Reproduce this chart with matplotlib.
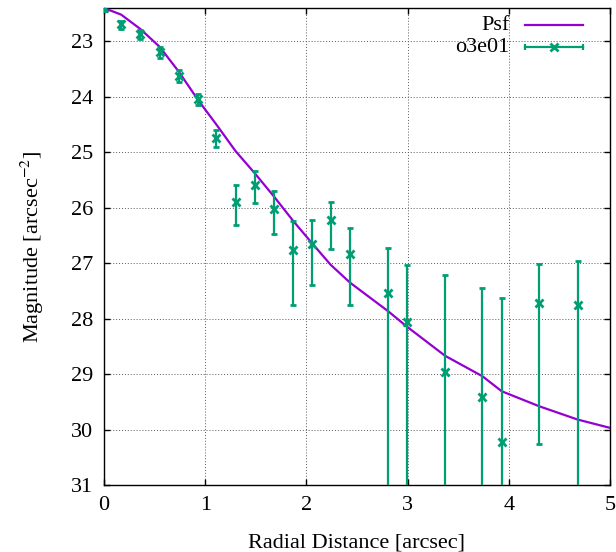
"""Radial surface-brightness profile of o3e01 against the PSF (gnuplot-style look)."""
import matplotlib
matplotlib.use("Agg")
import matplotlib.pyplot as plt
import numpy as np
from matplotlib import rcParams

rcParams.update({
    "font.family": "Liberation Serif",
    "mathtext.fontset": "stix",
    "font.size": 16,
    "axes.linewidth": 1.0,
})

PURPLE = "#9400d3"
GREEN = "#009e73"

# PSF profile
psf_r = [0.0, 0.17, 0.36, 0.55, 0.74, 0.93, 1.11, 1.30, 1.49, 1.68, 1.87, 2.06,
         2.24, 2.43, 2.81, 2.99, 3.37, 3.74, 3.93, 4.30, 4.68, 5.0]
psf_mag = [22.4, 22.52, 22.78, 23.10, 23.55, 24.06, 24.50, 24.98, 25.38, 25.80, 26.24, 26.65,
           27.03, 27.35, 27.87, 28.14, 28.67, 29.04, 29.31, 29.58, 29.82, 29.97]

# o3e01 measurements with asymmetric error bounds (bright / faint side)
obs_r = [0.0, 0.17, 0.36, 0.55, 0.74, 0.93, 1.11, 1.30, 1.49, 1.68, 1.87, 2.06,
         2.24, 2.43, 2.81, 2.99, 3.37, 3.74, 3.93, 4.30, 4.68]
obs_mag = [22.40, 22.69, 22.86, 23.20, 23.63, 24.04, 24.75, 25.90, 25.60, 26.03, 26.76, 26.65,
           26.23, 26.84, 27.54, 28.06, 28.96, 29.41, 30.23, 27.71, 27.75]
obs_bright = [22.35, 22.63, 22.80, 23.11, 23.52, 23.95, 24.60, 25.60, 25.34, 25.70, 26.24, 26.22,
              25.89, 26.36, 26.72, 27.03, 27.21, 27.44, 27.62, 27.01, 26.96]
obs_faint = [22.45, 22.78, 22.95, 23.30, 23.73, 24.15, 24.90, 26.31, 25.92, 26.48, 27.75, 27.39,
             26.75, 27.75, 32.0, 32.0, 32.0, 32.0, 32.0, 30.26, 32.0]

fig = plt.figure(figsize=(6.16, 5.52), dpi=100)
ax = fig.add_axes([104 / 616, 67 / 552, 506 / 616, 477 / 552])

ax.plot(psf_r, psf_mag, color=PURPLE, lw=1.6, zorder=3)

mag = np.array(obs_mag)
yerr = [mag - np.array(obs_bright), np.array(obs_faint) - mag]
ax.errorbar(obs_r, mag, yerr=yerr, fmt="x", color=GREEN, ecolor=GREEN,
            elinewidth=1.6, capsize=2.2, capthick=1.6, ms=6, mew=2, zorder=4)

ax.set_xlim(0, 5)
ax.set_ylim(31, 22.4)
ax.set_xticks(range(0, 6))
ax.set_yticks(range(23, 32))
ax.grid(True, ls=(0, (1, 2)), color="0.35", lw=0.7)
ax.tick_params(direction="in", length=4, width=1, top=True, right=True, pad=8)
ax.set_xlabel("Radial Distance [arcsec]", labelpad=13)
ax.set_ylabel("Magnitude [arcsec$^{-2}$]", labelpad=18)

# gnuplot-style key: right-aligned labels, sample to the right
tr = ax.transAxes
ax.text(0.802, 0.964, "Psf", transform=tr, ha="right", va="center")
ax.plot([0.832, 0.947], [0.964, 0.964], transform=tr, color=PURPLE, lw=1.6, clip_on=False)
ax.text(0.802, 0.918, "o3e01", transform=tr, ha="right", va="center")
ax.plot([0.832, 0.947], [0.918, 0.918], transform=tr, color=GREEN, lw=1.6, clip_on=False)
ax.plot([0.832, 0.947], [0.918, 0.918], transform=tr, ls="none", marker="|", ms=5,
        mew=1.6, color=GREEN, clip_on=False)
ax.plot([0.8895], [0.918], transform=tr, ls="none", marker="x", ms=6, mew=2,
        color=GREEN, clip_on=False)

fig.savefig("out.png", dpi=100)
